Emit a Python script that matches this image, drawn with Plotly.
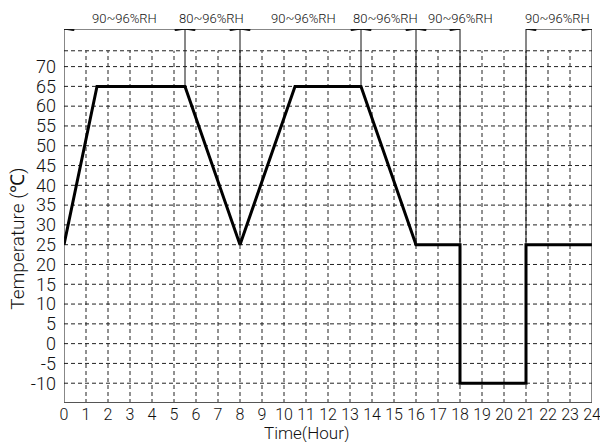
import plotly.graph_objects as go

# ---- data ----
time_h = [0, 1.5, 5.5, 8, 10.5, 13.5, 16, 18, 18, 21, 21, 24]
temp_c = [25, 65, 65, 25, 65, 65, 25, 25, -10, -10, 25, 25]

x_ticks = list(range(0, 25))
y_ticks = list(range(-10, 75, 5))
y_grid_top = 74

# humidity zones (start, end, label, label centre)
zone_start = [0, 5.5, 8, 13.5, 16, 21]
zone_end = [5.5, 8, 13.5, 16, 18, 24]
zone_label = ["90~96%RH", "80~96%RH", "90~96%RH", "80~96%RH", "90~96%RH", "90~96%RH"]
zone_label_x = [2.75, 6.7, 10.9, 14.6, 18.0, 22.45]

# boundary markers: x position and the curve value where the drop line ends
boundary_x = [5.5, 8, 13.5, 16, 18, 21]
boundary_y = [65, 25, 65, 25, 25, 25]

Y_MIN, Y_MAX = -15, 79.5
X_MIN, X_MAX = 0, 24

FONT = "Roboto, Liberation Sans, sans-serif"
INK = "#111111"

fig = go.Figure()

shapes = []
grid = dict(color="#222222", width=1, dash="4px,3px")
for y in y_ticks + [y_grid_top]:
    shapes.append(dict(type="line", xref="x", yref="y", x0=X_MIN, x1=X_MAX, y0=y, y1=y, line=grid, layer="below"))
for x in x_ticks[1:-1]:
    shapes.append(dict(type="line", xref="x", yref="y", x0=x, x1=x, y0=Y_MIN, y1=y_grid_top, line=grid, layer="below"))

solid = dict(color=INK, width=1)
# frame lines
shapes.append(dict(type="line", xref="x", yref="y", x0=X_MIN, x1=X_MIN, y0=Y_MIN, y1=Y_MAX, line=solid))
shapes.append(dict(type="line", xref="x", yref="y", x0=X_MAX, x1=X_MAX, y0=Y_MIN, y1=Y_MAX, line=solid))
shapes.append(dict(type="line", xref="x", yref="y", x0=X_MIN, x1=X_MAX, y0=Y_MIN, y1=Y_MIN, line=dict(color="#555555", width=2)))
# boundary drop lines
for bx, by in zip(boundary_x, boundary_y):
    shapes.append(dict(type="line", xref="x", yref="y", x0=bx, x1=bx, y0=by, y1=Y_MAX, line=solid))

# dimension lines with arrowheads
ah_len = 0.45   # hours
ah_half = 0.4   # degrees
for s, e in zip(zone_start, zone_end):
    shapes.append(dict(type="line", xref="x", yref="y", x0=s, x1=e, y0=Y_MAX, y1=Y_MAX, line=solid))
    shapes.append(dict(type="path", xref="x", yref="y",
                       path=f"M {s} {Y_MAX} L {s+ah_len} {Y_MAX+ah_half} L {s+ah_len} {Y_MAX-ah_half} Z",
                       fillcolor=INK, line=dict(color=INK, width=1)))
    shapes.append(dict(type="path", xref="x", yref="y",
                       path=f"M {e} {Y_MAX} L {e-ah_len} {Y_MAX+ah_half} L {e-ah_len} {Y_MAX-ah_half} Z",
                       fillcolor=INK, line=dict(color=INK, width=1)))

annotations = []
for lx, lab in zip(zone_label_x, zone_label):
    annotations.append(dict(x=lx, y=Y_MAX, xref="x", yref="y", text=lab, showarrow=False,
                            yanchor="bottom", yshift=1,
                            font=dict(family=FONT, size=13, color=INK, weight=300)))

annotations.append(dict(x=0, y=26.5, xref="x", yref="y", text="Temperature (℃)", textangle=-90,
                        showarrow=False, xanchor="center", yanchor="middle", xshift=-46,
                        font=dict(family=FONT, size=19, color=INK, weight=300)))
annotations.append(dict(x=11, y=0, xref="x", yref="paper", text="Time(Hour)", showarrow=False,
                        xanchor="center", yanchor="middle", yshift=-30,
                        font=dict(family=FONT, size=17, color=INK, weight=300)))

fig.add_trace(go.Scatter(x=time_h, y=temp_c, mode="lines",
                         line=dict(color="black", width=3), hoverinfo="skip", showlegend=False))

tickfont = dict(family=FONT, size=16, color=INK, weight=300)
fig.update_layout(
    width=600, height=442,
    margin=dict(l=64, r=8, t=29, b=39),
    paper_bgcolor="white", plot_bgcolor="white",
    shapes=shapes, annotations=annotations,
    showlegend=False,
    xaxis=dict(range=[X_MIN, X_MAX], tickmode="array", tickvals=x_ticks, ticktext=[str(v) for v in x_ticks],
               showgrid=False, zeroline=False, showline=False, ticks="", ticklen=0, tickangle=0,
               ticklabeloverflow="allow", automargin=False,
               tickfont=tickfont, fixedrange=True),
    yaxis=dict(range=[Y_MIN, Y_MAX], tickmode="array", tickvals=y_ticks, ticktext=[str(v) for v in y_ticks],
               showgrid=False, zeroline=False, showline=False, ticks="", ticklen=0, ticklabelstandoff=7,
               automargin=False, tickfont=dict(family=FONT, size=18, color=INK, weight=300), fixedrange=True),
)

fig.write_html("out.html", config={"displayModeBar": False},
               post_script="document.body.style.margin='0px';document.body.style.overflow='hidden';")
